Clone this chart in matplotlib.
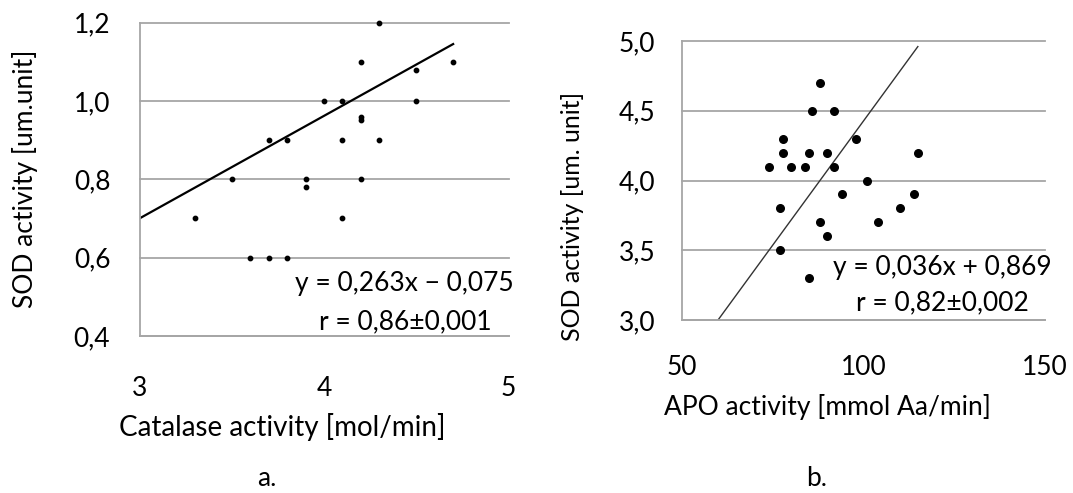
import matplotlib
matplotlib.use("Agg")
import matplotlib.pyplot as plt

plt.rcParams['font.family'] = ['Lato', 'DejaVu Sans']

# Panel a: Catalase vs SOD
cat_x = [4.3, 4.2, 4.7, 4.5, 4.5, 4.0, 4.1, 4.2, 4.2, 3.7, 3.8, 4.1, 4.3,
         3.5, 3.9, 3.9, 4.2, 3.3, 4.1, 3.6, 3.7, 3.8]
cat_y = [1.2, 1.1, 1.1, 1.08, 1.0, 1.0, 1.0, 0.95, 0.96, 0.9, 0.9, 0.9, 0.9,
         0.8, 0.8, 0.78, 0.8, 0.7, 0.7, 0.6, 0.6, 0.6]
trend_a_x = [3.0, 4.7]
trend_a_y = [0.70, 1.145]
a_xticks = [3, 4, 5]
a_yticks = [0.4, 0.6, 0.8, 1.0, 1.2]
a_ylabels = ['0,4', '0,6', '0,8', '1,0', '1,2']
a_eq = 'y = 0,263x \u2212 0,075'
a_r = 'r = 0,86\u00b10,001'

# Panel b: APO vs SOD
apo_x = [88, 86, 92, 78, 98, 78, 85, 90, 115, 74, 80, 84, 92, 101, 94, 114,
         77, 110, 88, 104, 90, 77, 85]
apo_y = [4.7, 4.5, 4.5, 4.3, 4.3, 4.2, 4.2, 4.2, 4.2, 4.1, 4.1, 4.1, 4.1, 4.0,
         3.9, 3.9, 3.8, 3.8, 3.7, 3.7, 3.6, 3.5, 3.3]
trend_b_x = [60, 115]
trend_b_y = [3.0, 4.96]
b_xticks = [50, 100, 150]
b_yticks = [3.0, 3.5, 4.0, 4.5, 5.0]
b_ylabels = ['3,0', '3,5', '4,0', '4,5', '5,0']
b_eq = 'y = 0,036x + 0,869'
b_r = 'r = 0,82\u00b10,002'

W, H = 1073, 493
fig = plt.figure(figsize=(W / 100, H / 100), dpi=100)

def fx(px):
    return px / W

def fy(py):
    return 1 - py / H

grid_c = '#a6a6a6'

def style(ax, xpad, ypad):
    for s in ['top', 'right']:
        ax.spines[s].set_visible(False)
    for s in ['left', 'bottom']:
        ax.spines[s].set_color(grid_c)
        ax.spines[s].set_linewidth(1.3)
    ax.tick_params(length=0, labelsize=19)
    ax.tick_params(axis='x', pad=xpad)
    ax.tick_params(axis='y', pad=ypad)
    ax.yaxis.grid(True, color=grid_c, linewidth=1.3)
    ax.set_axisbelow(True)
    for ln in ax.get_ygridlines():
        ln.set_clip_on(False)

# ---- panel a
axa = fig.add_axes([fx(139.5), fy(336), fx(508.5 - 139.5), (336 - 22.5) / H])
axa.scatter(cat_x, cat_y, s=10, color='black', zorder=3, clip_on=False)
axa.plot(trend_a_x, trend_a_y, color='black', linewidth=1.6, zorder=2)
axa.set_xlim(3, 5)
axa.set_ylim(0.4, 1.2)
axa.set_xticks(a_xticks)
axa.set_xticklabels([str(v) for v in a_xticks])
axa.set_yticks(a_yticks)
axa.set_yticklabels(a_ylabels)
style(axa, 29, 21)
fig.text(fx(404), fy(283), a_eq, ha='center', va='center', fontsize=19)
fig.text(fx(405), fy(322), a_r, ha='center', va='center', fontsize=19)
fig.text(fx(282), fy(427), 'Catalase activity [mol/min]', ha='center', va='center', fontsize=20)
fig.text(fx(25), fy(179), 'SOD activity [um.unit]', ha='center', va='center',
         rotation=90, fontsize=19)
fig.text(fx(267), fy(478), 'a.', ha='center', va='center', fontsize=19)

# ---- panel b
axb = fig.add_axes([fx(681.7), fy(320), fx(1045 - 681.7), (320 - 41) / H])
axb.scatter(apo_x, apo_y, s=30, color='black', zorder=3, clip_on=False)
axb.plot(trend_b_x, trend_b_y, color='#333333', linewidth=1.0, zorder=2)
axb.set_xlim(50, 150)
axb.set_ylim(3.0, 5.0)
axb.set_xticks(b_xticks)
axb.set_xticklabels([str(v) for v in b_xticks])
axb.set_yticks(b_yticks)
axb.set_yticklabels(b_ylabels)
style(axb, 25, 19)
fig.text(fx(942), fy(267), b_eq, ha='center', va='center', fontsize=19)
fig.text(fx(942), fy(303), b_r, ha='center', va='center', fontsize=19)
fig.text(fx(827), fy(407), 'APO activity [mmol Aa/min]', ha='center', va='center', fontsize=19)
fig.text(fx(572), fy(216), 'SOD activity [um. unit]', ha='center', va='center',
         rotation=90, fontsize=18)
fig.text(fx(817), fy(478), 'b.', ha='center', va='center', fontsize=19)

fig.savefig('out.png', dpi=100)
